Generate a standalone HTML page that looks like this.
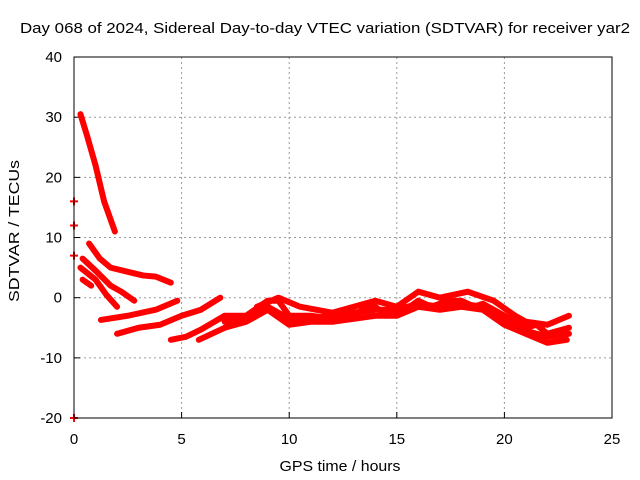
<!DOCTYPE html>
<html><head><meta charset="utf-8"><style>body{margin:0;background:#fff}svg{display:block;font-family:"Liberation Sans",sans-serif}</style></head>
<body>
<svg id="c" width="640" height="480">
<text x="325" y="33" font-size="15" text-anchor="middle" textLength="610" lengthAdjust="spacingAndGlyphs">Day 068 of 2024, Sidereal Day-to-day VTEC variation (SDTVAR) for receiver yar2</text>
<text x="340" y="471" font-size="15" text-anchor="middle" textLength="121" lengthAdjust="spacingAndGlyphs">GPS time / hours</text>
<text transform="translate(19,231) rotate(-90)" font-size="15" text-anchor="middle" textLength="142" lengthAdjust="spacingAndGlyphs">SDTVAR / TECUs</text>
<g id="grid"></g><g id="ser"></g>
<rect x="74" y="57" width="538" height="361" fill="none" stroke="#000"/>
</svg>
<script>
const xTicks=[0,5,10,15,20,25];
const yTicks=[-20,-10,0,10,20,30,40];
const tracks=[
 [[0.3,30.5],[0.6,27],[1.0,22],[1.4,16],[1.9,11]],
 [[0.7,9],[1.2,6.5],[1.7,5],[2.5,4.3],[3.2,3.7],[3.8,3.5],[4.5,2.5]],
 [[0.4,6.5],[1,4.5],[1.7,2],[2.2,1],[2.8,-0.5]],
 [[0.3,5],[1,3],[1.5,0.5],[2,-1.5]],
 [[0.4,3],[0.8,2]],
 [[1.25,-3.7],[2.5,-3],[3.8,-2],[4.8,-0.5]],
 [[2,-6],[3,-5],[4,-4.5],[5,-3],[5.9,-2],[6.8,0]],
 [[4.5,-7],[5.2,-6.5],[5.9,-5.3],[7,-3],[8,-3],[8.6,-1.5],[9,-0.5],[9.5,-0.5],[10,-3],[11,-3],[12,-3.5],[13,-3],[13.6,-1.5],[14,-1.5],[14.5,-3],[15,-2.5],[15.6,-1.5],[16,-0.5],[16.6,-1.5],[17,-1],[17.6,-0.5],[18,-0.5],[18.6,-1.5],[19,-1],[19.5,-2],[20,-3],[20.5,-4],[21,-5],[21.5,-4.5],[22,-6],[22.5,-5.5],[23,-5]],
 [[5.8,-7],[7,-5],[8,-4],[9,-2],[10,-4.5],[11,-4],[12,-4],[13,-3.5],[14,-3],[15,-3],[16,-1.5],[17,-2],[18,-1.5],[19,-2],[20,-4.5],[21,-6],[22,-7.5],[22.9,-7]],
 [[8.5,-1.5],[9.5,0],[10.5,-1.5],[12,-2.5],[13,-1.5],[14,-0.5],[15,-1.5],[16,1],[17,0],[18.3,1],[19.5,-0.5],[20.5,-3],[21,-4],[22,-4.5],[23,-3]],
 [[7,-4],[8,-3.5],[9,-1.5],[10,-3.5],[11,-3.5],[12,-3],[13,-2.5],[14,-2],[15,-2],[16,-1],[17,-1.5],[18,-1],[19,-1.5],[20,-3.5],[21,-5.5],[22,-6.5],[23,-6]]
];
const isoX=[0,0,0,0];
const isoY=[16,12,7,-20];
const X=v=>74+v*538/25, Y=v=>297.7-v*361/60;
const NS='http://www.w3.org/2000/svg';
const g=document.getElementById('grid'), s=document.getElementById('ser');
function mk(p,t,a){const e=document.createElementNS(NS,t);for(const k in a)e.setAttribute(k,a[k]);p.appendChild(e);return e;}
xTicks.forEach(v=>{
 if(v>0&&v<25){const l=mk(g,'line',{x1:X(v),x2:X(v),y1:57,y2:418,stroke:'#999','stroke-dasharray':'2,3'});
 
 }
 mk(g,'line',{x1:X(v),x2:X(v),y1:418,y2:412,stroke:'#000'});
 const t=mk(g,'text',{x:X(v),y:444,'font-size':15,'text-anchor':'middle'});t.textContent=v;
 
 
});
yTicks.forEach(v=>{
 if(v>-20&&v<40){const l=mk(g,'line',{x1:74,x2:612,y1:Y(v),y2:Y(v),stroke:'#999','stroke-dasharray':'2,3'});
 
 }
 mk(g,'line',{x1:74,x2:80,y1:Y(v),y2:Y(v),stroke:'#000'});
 const t=mk(g,'text',{x:62,y:Y(v)+5,'font-size':15,'text-anchor':'end'});t.textContent=v;
 
 
});
tracks.forEach(tr=>{
 const p=mk(s,'polyline',{points:tr.map(d=>X(d[0])+','+Y(d[1])).join(' '),fill:'none',stroke:'#f00','stroke-width':6,'stroke-linejoin':'round','stroke-linecap':'round'});
 
 
});
isoX.forEach((x,i)=>{
 const px=X(x),py=Y(isoY[i]);
 const p=mk(s,'path',{d:`M${px-4},${py}H${px+4}M${px},${py-4}V${py+4}`,stroke:'#f00','stroke-width':2});
 
 
});
</script>
</body></html>
